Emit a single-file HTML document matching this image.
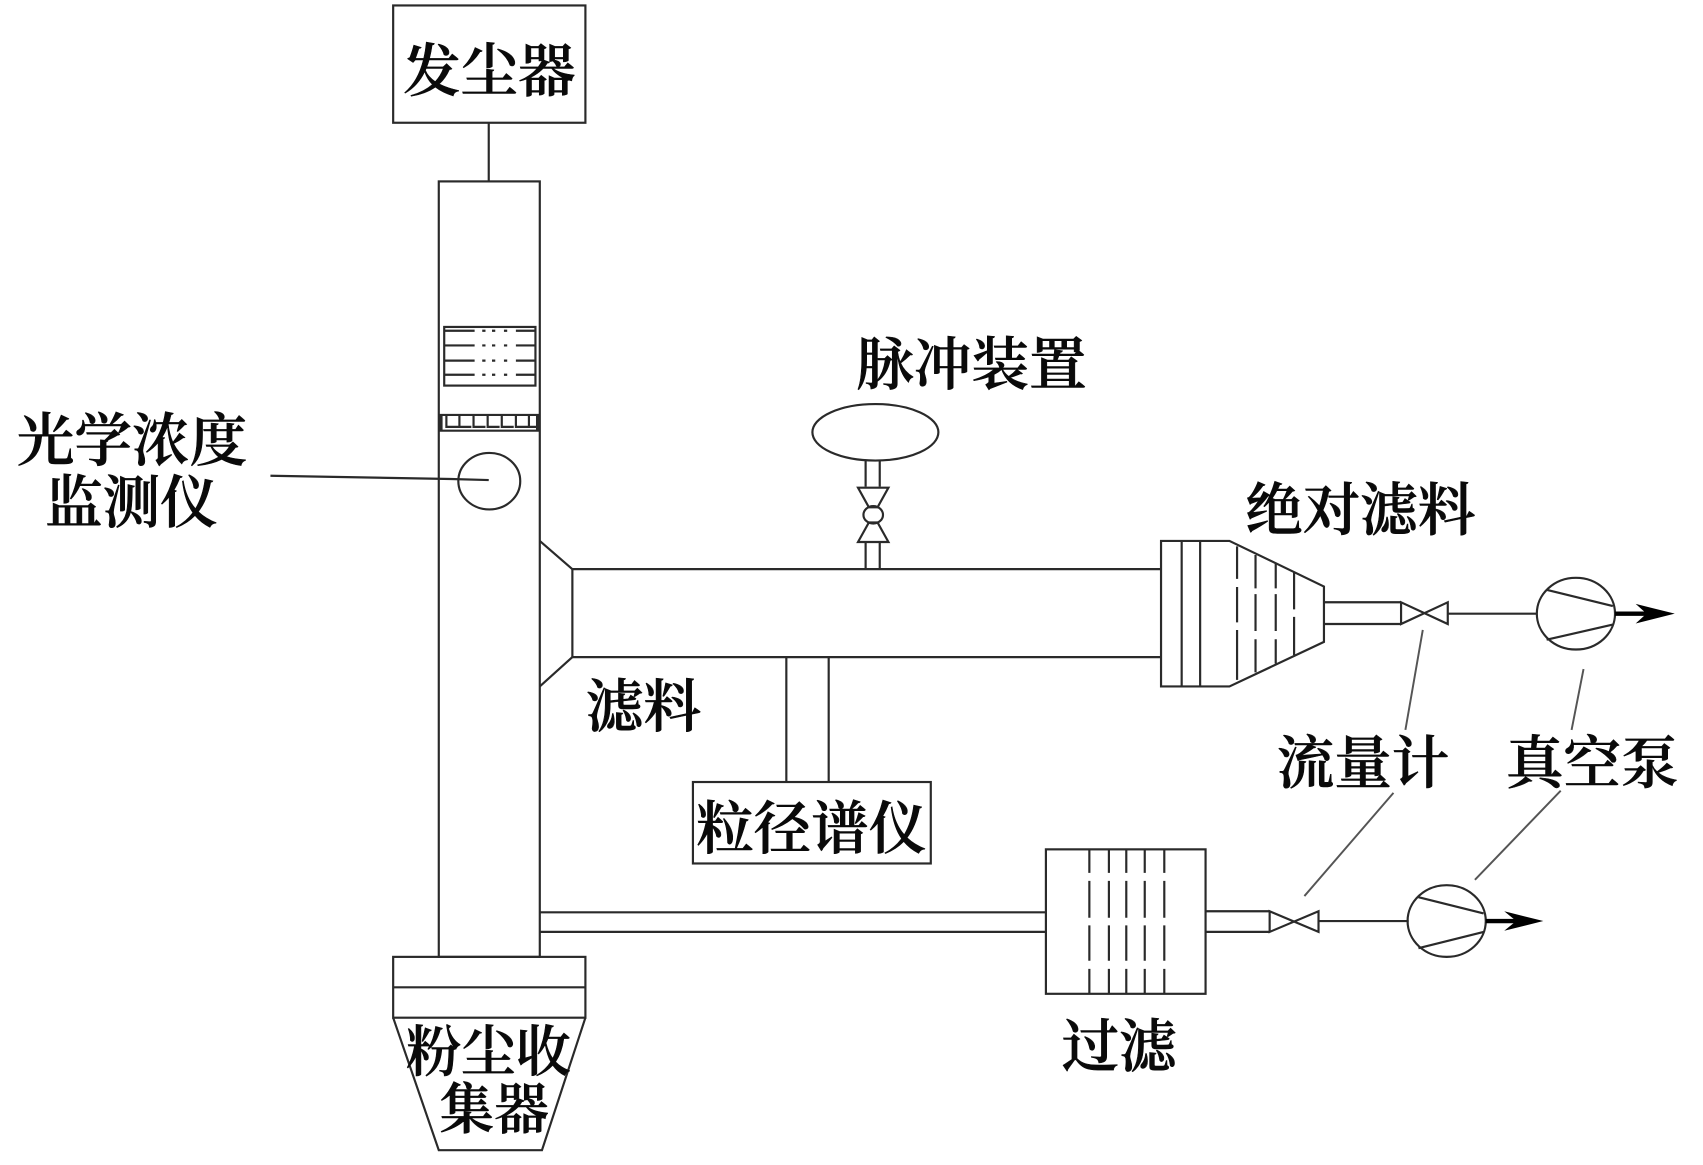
<!DOCTYPE html>
<html><head><meta charset="utf-8"><style>
html,body{margin:0;padding:0;background:#fff;width:1703px;height:1165px;overflow:hidden}
svg{display:block}
text{font-family:"Liberation Serif","Noto Serif CJK SC",serif;font-weight:600;font-size:53px;fill:#0a0a0a;stroke:#0a0a0a;stroke-width:.5px}
.l{fill:none;stroke:#2a2a2a;stroke-width:2}
.t{fill:none;stroke:#555;stroke-width:1.8}
</style></head><body>
<svg width="1703" height="1165" viewBox="0 0 1568 1072.6" xmlns="http://www.w3.org/2000/svg">
<rect width="1568" height="1072.6" fill="#fff"/>
<g class="l">
<rect x="362" y="5" width="177" height="108"/>
<path d="M450 113V167"/>
<rect x="404" y="167" width="93" height="714"/>
<rect x="409" y="301" width="84" height="54"/>
<path d="M409 304.500H437M444 304.500h3M453 304.500h3M464 304.500h3M475 304.500H493M409 318H437M444 318h3M453 318h3M464 318h3M475 318H493M409 332H437M444 332h3M453 332h3M464 332h3M475 332H493M409 345H437M444 345h3M453 345h3M464 345h3M475 345H493"/>
<path d="M404 382H497M404 396.500H497"/>
<path d="M405.500 382V396.500M495.500 382V396.500" style="stroke-width:4"/>
<path d="M411 382V393H422M423 382V393H434M436 382V393H447M449 382V393H460M462 382V393H473M475 382V393H486M487 382V393H495"/>
<ellipse cx="450.500" cy="443" rx="28.500" ry="26"/>
<path d="M249 438L415 441L450 442"/>
<ellipse cx="806" cy="398" rx="58" ry="26"/>
<path d="M797 424V448M810 424V448M797 499V524M810 499V524"/>
<path d="M790 449H818L808 467H800ZM790 499H818L808 481H800Z"/>
<ellipse cx="804" cy="474" rx="9" ry="8"/>
<path d="M527 524V605M527 524H1069M527 605H1069"/>
<path d="M497 498L527 524M497 632L527 605"/>
<path d="M724 605V720M763 605V720"/>
<rect x="638" y="720" width="219" height="75"/>
<path d="M1069 498H1132L1219 540V591L1132 632H1069Z"/>
<path d="M1088 498V632M1105 498V632"/>
<path d="M1139 503V533M1139 540.500V573M1139 580V626M1156 511V541.700M1156 547V581M1156 588.500V619M1174.600 519V541.700M1174.600 547V581M1174.600 588.500V611M1191.500 526.700V561M1191.500 568V603"/>
<path d="M1219 554.500H1290M1219 574.500H1290"/>
<path d="M1290 554.500V574.500L1333 554.500V574.500Z"/>
<path d="M1333 565H1415"/>
<ellipse cx="1451" cy="565" rx="36" ry="33"/>
<path d="M1424 543L1485 558M1424 589L1485 575"/>
<path d="M497 840H963M497 858H963"/>
<rect x="963" y="782" width="147" height="133"/>
<path d="M1003 782V803.600M1003 811V845M1003 852V884.600M1003 892V915M1021 782V803.600M1021 811V845M1021 852V884.600M1021 892V915M1037 782V803.600M1037 811V845M1037 852V884.600M1037 892V915M1054 782V803.600M1054 811V845M1054 852V884.600M1054 892V915M1072 782V803.600M1072 811V845M1072 852V884.600M1072 892V915"/>
<path d="M1110 839H1169M1110 858H1169"/>
<path d="M1169 839V858L1214 839V858Z"/>
<path d="M1214 848H1297"/>
<ellipse cx="1332" cy="848" rx="36" ry="33"/>
<path d="M1306 826L1366 841M1306 873L1366 858"/>
<rect x="362" y="881" width="177" height="56"/>
<path d="M362 909H539"/>
<path d="M362 937L404 1059H499L539 937"/>
</g>
<g class="t">
<path d="M1310 580L1294 672M1458 616L1447 672M1283 730L1201 825M1437 728L1358 810"/>
</g>
<path d="M1487 565H1520" stroke="#000" stroke-width="4"/>
<path d="M1542 565L1506 556L1516 565L1506 574Z" fill="#000"/>
<path d="M1368 848H1400" stroke="#000" stroke-width="4"/>
<path d="M1421 848L1385 839L1396 848L1385 857Z" fill="#000"/>
<text x="371" y="84">发尘器</text>
<text x="15.500" y="424">光学浓度</text>
<text x="41.500" y="481">监测仪</text>
<text x="788.500" y="354">脉冲装置</text>
<text x="1146.500" y="488">绝对滤料</text>
<text x="539.500" y="669">滤料</text>
<text x="641" y="781">粒径谱仪</text>
<text x="1175.500" y="721">流量计</text>
<text x="1386.500" y="721">真空泵</text>
<text x="977.500" y="982">过滤</text>
<text x="374" y="986" style="font-size:50.500px">粉尘收</text>
<text x="404.500" y="1039" style="font-size:50.500px">集器</text>
</svg>
</body></html>
